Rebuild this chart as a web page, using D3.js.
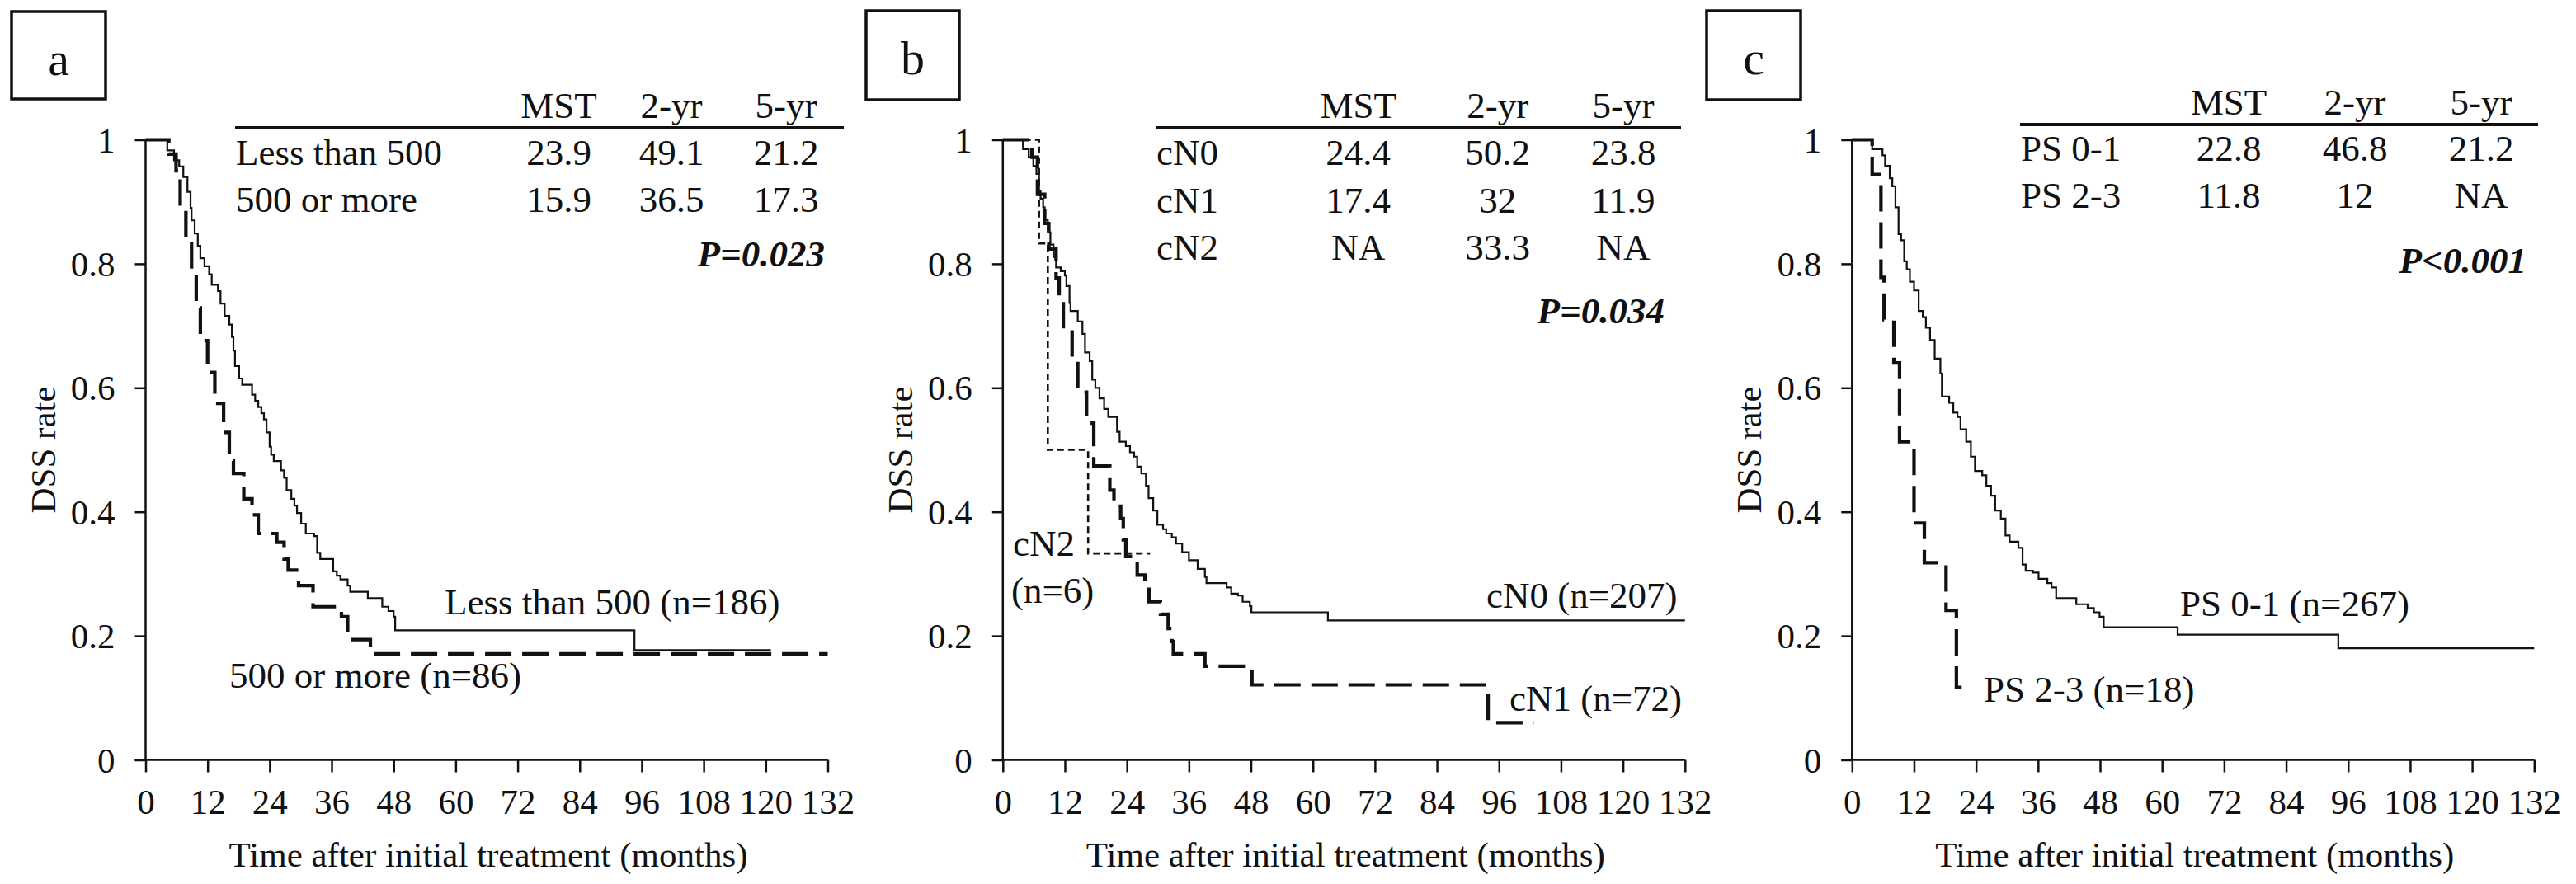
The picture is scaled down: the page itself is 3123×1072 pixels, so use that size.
<!DOCTYPE html>
<html>
<head>
<meta charset="utf-8">
<script src="https://cdn.jsdelivr.net/npm/d3@7"></script>
<style>
  html, body { margin: 0; padding: 0; background: #fff; }
  svg text { font-family: "Liberation Serif", "Times New Roman", serif; fill: #111; }
</style>
</head>
<body>
<svg id="chart" width="3123" height="1072" font-family="Liberation Serif, Times New Roman, serif"></svg>
<script>
// ---------------- DATA ----------------
const xTicks = [0, 12, 24, 36, 48, 60, 72, 84, 96, 108, 120, 132];
const yTicks = [0, 0.2, 0.4, 0.6, 0.8, 1];
const yTickLabels = ["0", "0.2", "0.4", "0.6", "0.8", "1"];
const tableHeaders = ["MST", "2-yr", "5-yr"];
const xTitle = "Time after initial treatment (months)";
const yTitle = "DSS rate";

// Panel a: table
const aGroups = ["Less than 500", "500 or more"];
const aMST = ["23.9", "15.9"];
const a2yr = ["49.1", "36.5"];
const a5yr = ["21.2", "17.3"];
const aP = "P=0.023";
const aCurveLabels = ["Less than 500 (n=186)", "500 or more (n=86)"];

// Panel b: table
const bGroups = ["cN0", "cN1", "cN2"];
const bMST = ["24.4", "17.4", "NA"];
const b2yr = ["50.2", "32", "33.3"];
const b5yr = ["23.8", "11.9", "NA"];
const bP = "P=0.034";
const bCurveLabels = ["cN0 (n=207)", "cN1 (n=72)", "cN2", "(n=6)"];

// Panel c: table
const cGroups = ["PS 0-1", "PS 2-3"];
const cMST = ["22.8", "11.8"];
const c2yr = ["46.8", "12"];
const c5yr = ["21.2", "NA"];
const cP = "P<0.001";
const cCurveLabels = ["PS 0-1 (n=267)", "PS 2-3 (n=18)"];

// Kaplan-Meier step curves: [month, survival from that month on]
const lessThan500 = [[0,1],[4.2,0.983],[5.5,0.967],[6.5,0.957],[7.3,0.94],[8.1,0.916],[8.7,0.89],[8.9,0.87],[9.5,0.849],[10.1,0.829],[10.6,0.809],[11.4,0.796],[12.3,0.783],[12.8,0.766],[14.0,0.756],[14.5,0.736],[15.3,0.716],[16.2,0.702],[16.7,0.682],[17.0,0.66],[17.3,0.635],[18.1,0.615],[18.7,0.605],[20.6,0.589],[21.2,0.579],[21.8,0.569],[22.4,0.559],[22.9,0.549],[23.4,0.528],[24.0,0.505],[24.3,0.492],[24.8,0.482],[26.2,0.467],[26.8,0.455],[27.3,0.435],[28.2,0.421],[28.8,0.41],[29.3,0.398],[30.1,0.381],[31.0,0.365],[32.6,0.361],[33.2,0.334],[33.8,0.324],[36.3,0.304],[37.0,0.297],[37.7,0.291],[39.1,0.281],[39.6,0.271],[43.0,0.261],[45.8,0.247],[47.0,0.24],[48.0,0.231],[48.3,0.209],[94.6,0.177],[121,0.177]];
const fiveHundredOrMore = [[0,1],[4.5,0.977],[5.9,0.95],[6.7,0.893],[7.8,0.839],[8.9,0.786],[9.8,0.729],[10.6,0.676],[12.0,0.625],[13.4,0.575],[15.1,0.528],[16.2,0.482],[17.0,0.462],[19.0,0.421],[20.6,0.395],[21.8,0.365],[25.4,0.351],[26.8,0.324],[27.6,0.306],[29.6,0.281],[32.4,0.247],[37.9,0.231],[39.1,0.194],[43.5,0.171],[132,0.171]];

const cN0 = [[0,1],[3.9,0.985],[5.0,0.972],[5.9,0.958],[6.5,0.945],[7.0,0.918],[7.3,0.905],[7.8,0.891],[8.1,0.871],[8.7,0.851],[9.2,0.831],[9.8,0.811],[10.3,0.794],[11.2,0.788],[12.0,0.781],[12.3,0.764],[12.9,0.737],[13.1,0.724],[14.5,0.707],[15.4,0.687],[15.9,0.657],[16.8,0.643],[17.3,0.613],[17.9,0.6],[18.7,0.583],[19.6,0.566],[20.4,0.553],[22.1,0.529],[22.6,0.513],[23.8,0.506],[24.6,0.496],[25.4,0.489],[26.0,0.473],[26.8,0.462],[27.7,0.442],[28.2,0.422],[29.1,0.402],[29.9,0.379],[31.0,0.372],[31.6,0.365],[32.7,0.359],[33.5,0.349],[34.7,0.335],[36.0,0.322],[37.7,0.308],[39.1,0.295],[39.4,0.285],[43.3,0.278],[44.2,0.268],[45.5,0.265],[46.4,0.255],[47.8,0.248],[48.1,0.238],[62.9,0.225],[132,0.225]];
const cN1 = [[0,1],[5.6,0.972],[6.7,0.912],[8.1,0.865],[8.9,0.824],[10.3,0.777],[10.9,0.744],[11.7,0.69],[13.4,0.643],[14.5,0.593],[16.2,0.543],[17.6,0.474],[20.7,0.435],[21.5,0.409],[22.8,0.389],[23.3,0.355],[23.8,0.328],[26.0,0.298],[27.5,0.275],[28.3,0.255],[30.5,0.235],[32.0,0.212],[32.7,0.191],[33.0,0.171],[39.1,0.151],[48.2,0.121],[93.9,0.06],[102.7,0.06]];
const cN2 = [[0,1],[7.0,0.833],[8.7,0.5],[16.5,0.333],[28.5,0.333]];

const ps01 = [[0,1],[3.9,0.985],[5.9,0.975],[6.4,0.958],[7.3,0.938],[7.8,0.925],[8.4,0.891],[9.0,0.848],[9.5,0.838],[10.1,0.804],[10.6,0.791],[11.2,0.771],[12.0,0.757],[12.9,0.724],[13.7,0.714],[14.3,0.697],[15.1,0.677],[16.0,0.647],[17.1,0.623],[17.4,0.586],[18.8,0.576],[19.6,0.56],[20.4,0.553],[21.0,0.533],[22.1,0.513],[23.0,0.489],[23.8,0.466],[25.2,0.459],[26.0,0.442],[26.9,0.426],[27.7,0.402],[28.8,0.389],[29.7,0.362],[30.5,0.352],[32.2,0.342],[33.0,0.315],[33.6,0.305],[35.0,0.302],[36.1,0.292],[37.8,0.285],[38.6,0.278],[39.5,0.261],[43.4,0.251],[45.6,0.245],[46.8,0.238],[47.9,0.231],[48.7,0.214],[63.0,0.202],[94.1,0.18],[132,0.18]];
const ps23 = [[0,1],[3.9,0.944],[5.6,0.778],[6.2,0.71],[8.1,0.64],[9.2,0.513],[12.0,0.382],[14.0,0.318],[18.2,0.241],[20.2,0.117],[23.2,0.117]];

// ---------------- LAYOUT ----------------
const FONT = 45, TITLEFONT = 43, TICKFONT = 43;
const Y0 = 921.5, Y1 = 169.5, XW = 827;
const styles = {
  solid:  { w: 2.2, dash: null },
  dashed: { w: 4.2, dash: "32,13" },
  dotted: { w: 2.6, dash: "8,5" }
};

const panels = [
  { letter: "a", ax: 176.5, box: [14, 14, 114, 106],
    table: { x1: 285, x2: 1023, lineY: 155, cols: [677.6, 814, 953], rowYs: [200, 256.5], pX: 1000, pY: 323 },
    groups: aGroups, mst: aMST, y2: a2yr, y5: a5yr, p: aP,
    curves: [{ data: lessThan500, s: "solid" }, { data: fiveHundredOrMore, s: "dashed" }],
    labels: [{ t: aCurveLabels[0], x: 539, y: 745 }, { t: aCurveLabels[1], x: 278, y: 834 }] },
  { letter: "b", ax: 1215.8, box: [1050, 13, 113, 108],
    table: { x1: 1401, x2: 2038, lineY: 155, cols: [1646.7, 1815.7, 1968], rowYs: [200, 258, 315], pX: 2018, pY: 392 },
    groups: bGroups, mst: bMST, y2: b2yr, y5: b5yr, p: bP,
    curves: [{ data: cN0, s: "solid" }, { data: cN1, s: "dashed" }, { data: cN2, s: "dotted" }],
    labels: [{ t: bCurveLabels[0], x: 1802, y: 737 }, { t: bCurveLabels[1], x: 1830, y: 862 },
             { t: bCurveLabels[2], x: 1228, y: 674 }, { t: bCurveLabels[3], x: 1226, y: 731 }] },
  { letter: "c", ax: 2245.3, box: [2069, 13, 114, 108],
    table: { x1: 2449, x2: 3077, lineY: 151, cols: [2702, 2855, 3008], rowYs: [195, 251.5], pX: 3063, pY: 331 },
    groups: cGroups, mst: cMST, y2: c2yr, y5: c5yr, p: cP,
    curves: [{ data: ps01, s: "solid" }, { data: ps23, s: "dashed" }],
    labels: [{ t: cCurveLabels[0], x: 2643, y: 747 }, { t: cCurveLabels[1], x: 2405, y: 851 }] }
];

const svg = d3.select("#chart");

panels.forEach(p => {
  const g = svg.append("g");
  const x = d3.scaleLinear().domain([0, 132]).range([p.ax, p.ax + XW]);
  const y = d3.scaleLinear().domain([0, 1]).range([Y0, Y1]);

  // panel letter box
  g.append("rect").attr("x", p.box[0]).attr("y", p.box[1]).attr("width", p.box[2]).attr("height", p.box[3])
    .attr("fill", "none").attr("stroke", "#111").attr("stroke-width", 3.5);
  g.append("text").attr("x", p.box[0] + p.box[2] / 2).attr("y", p.box[1] + 77)
    .attr("text-anchor", "middle").attr("font-size", 58).text(p.letter);

  // x axis
  const xa = g.append("g").attr("transform", `translate(0,${Y0})`)
    .call(d3.axisBottom(x).tickValues(xTicks).tickFormat(d3.format("d")).tickSize(15).tickSizeOuter(0));
  xa.attr("font-family", null);
  xa.select(".domain").remove();
  xa.selectAll(".tick line").attr("stroke", "#111").attr("stroke-width", 2.5);
  xa.selectAll(".tick text").attr("y", 65.5).attr("dy", null)
    .attr("font-size", TICKFONT).attr("fill", "#111");
  g.append("line").attr("x1", x(0) - 13).attr("x2", x(132)).attr("y1", Y0).attr("y2", Y0)
    .attr("stroke", "#111").attr("stroke-width", 2.6);

  // y axis
  const ya = g.append("g").attr("transform", `translate(${p.ax},0)`)
    .call(d3.axisLeft(y).tickValues(yTicks).tickFormat((d, i) => yTickLabels[i]).tickSize(13).tickSizeOuter(0));
  ya.attr("font-family", null);
  ya.select(".domain").remove();
  ya.selectAll(".tick line").attr("stroke", "#111").attr("stroke-width", 2.5);
  ya.selectAll(".tick text").attr("x", -37).attr("dy", "0.34em")
    .attr("font-size", TICKFONT).attr("fill", "#111");
  g.append("line").attr("x1", p.ax).attr("x2", p.ax).attr("y1", y(0)).attr("y2", y(1))
    .attr("stroke", "#111").attr("stroke-width", 2.5);

  // axis titles
  g.append("text").attr("x", p.ax + XW / 2 + 2).attr("y", 1051).attr("text-anchor", "middle")
    .attr("font-size", TITLEFONT).text(xTitle);
  g.append("text").attr("transform", `translate(${p.ax - 110},${(y(0) + y(1)) / 2}) rotate(-90)`)
    .attr("text-anchor", "middle").attr("font-size", TITLEFONT).text(yTitle);

  // curves
  const line = d3.line().x(d => x(d[0])).y(d => y(d[1])).curve(d3.curveStepAfter);
  p.curves.forEach(c => {
    const st = styles[c.s];
    g.append("path").datum(c.data).attr("d", line).attr("fill", "none")
      .attr("stroke", "#111").attr("stroke-width", st.w)
      .attr("stroke-dasharray", st.dash).attr("stroke-linejoin", "miter");
  });

  // curve labels
  p.labels.forEach(l => {
    g.append("text").attr("x", l.x).attr("y", l.y).attr("font-size", FONT).text(l.t);
  });

  // table
  const t = p.table;
  g.append("line").attr("x1", t.x1).attr("x2", t.x2).attr("y1", t.lineY).attr("y2", t.lineY)
    .attr("stroke", "#111").attr("stroke-width", 4);
  tableHeaders.forEach((h, i) => {
    g.append("text").attr("x", t.cols[i]).attr("y", t.lineY - 12).attr("text-anchor", "middle")
      .attr("font-size", FONT).text(h);
  });
  p.groups.forEach((name, r) => {
    g.append("text").attr("x", t.x1 + 1).attr("y", t.rowYs[r]).attr("font-size", FONT).text(name);
    [p.mst[r], p.y2[r], p.y5[r]].forEach((v, i) => {
      g.append("text").attr("x", t.cols[i]).attr("y", t.rowYs[r]).attr("text-anchor", "middle")
        .attr("font-size", FONT).text(v);
    });
  });
  g.append("text").attr("x", t.pX).attr("y", t.pY).attr("text-anchor", "end")
    .attr("font-size", FONT).attr("font-weight", "bold").attr("font-style", "italic").text(p.p);
});
</script>
</body>
</html>
